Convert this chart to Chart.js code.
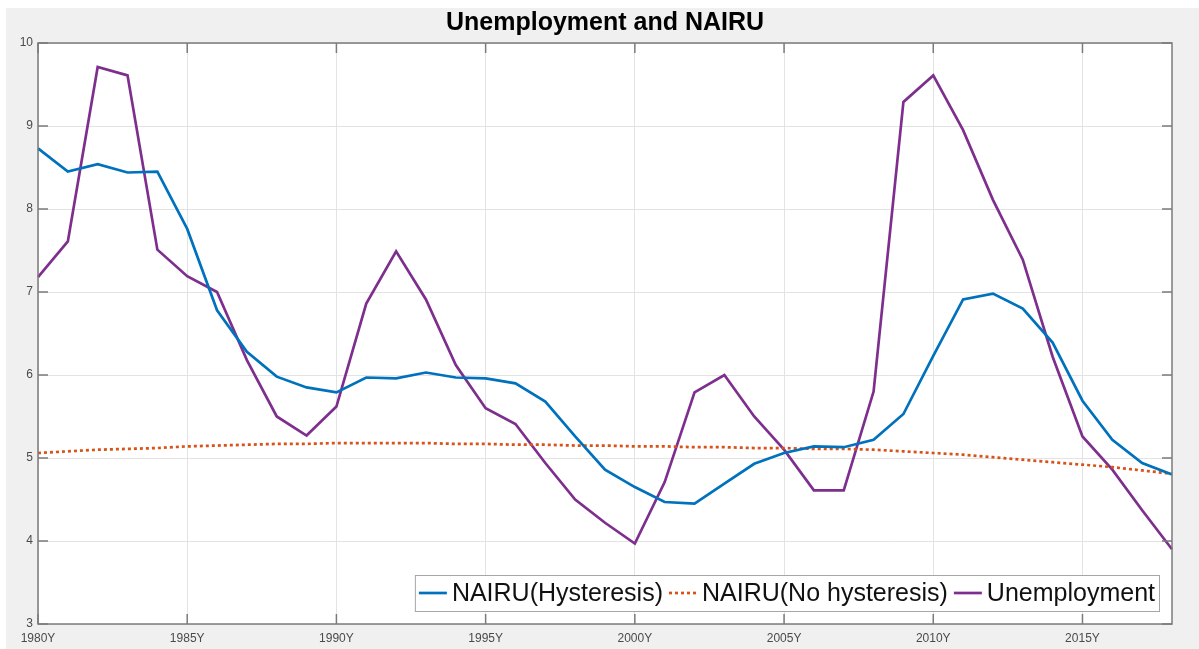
<!DOCTYPE html>
<html>
<head>
<meta charset="utf-8">
<script src="https://cdn.jsdelivr.net/npm/chart.js@4/dist/chart.umd.min.js"></script>
<style>
  html, body { margin: 0; padding: 0; background: #ffffff; }
  #wrap { width: 1199px; height: 649px; }
</style>
</head>
<body>
<div id="wrap"><canvas id="chart" width="1199" height="649"></canvas></div>
<script>
const years = [1980, 1981, 1982, 1983, 1984, 1985, 1986, 1987, 1988, 1989,
  1990, 1991, 1992, 1993, 1994, 1995, 1996, 1997, 1998, 1999,
  2000, 2001, 2002, 2003, 2004, 2005, 2006, 2007, 2008, 2009,
  2010, 2011, 2012, 2013, 2014, 2015, 2016, 2017, 2018];

const nairuHysteresis = [8.73, 8.45, 8.54, 8.44, 8.45, 7.76, 6.78, 6.28, 5.98, 5.85,
  5.79, 5.97, 5.96, 6.03, 5.97, 5.96, 5.90, 5.68, 5.26, 4.86,
  4.65, 4.47, 4.45, 4.69, 4.93, 5.06, 5.14, 5.13, 5.22, 5.53,
  6.23, 6.91, 6.98, 6.80, 6.39, 5.69, 5.22, 4.94, 4.80];

const nairuNoHysteresis = [5.06, 5.08, 5.10, 5.11, 5.12, 5.14, 5.15, 5.16, 5.17, 5.17,
  5.18, 5.18, 5.18, 5.18, 5.17, 5.17, 5.16, 5.16, 5.15, 5.15,
  5.14, 5.14, 5.13, 5.13, 5.12, 5.12, 5.11, 5.11, 5.10, 5.08,
  5.06, 5.04, 5.01, 4.98, 4.95, 4.92, 4.89, 4.85, 4.81];

const unemployment = [7.18, 7.61, 9.71, 9.61, 7.51, 7.19, 7.00, 6.18, 5.50, 5.27,
  5.62, 6.86, 7.49, 6.91, 6.12, 5.60, 5.41, 4.94, 4.50, 4.22,
  3.97, 4.71, 5.79, 6.00, 5.50, 5.10, 4.61, 4.61, 5.80, 9.29,
  9.61, 8.95, 8.11, 7.39, 6.22, 5.26, 4.86, 4.37, 3.90];

const yTicks = [3, 4, 5, 6, 7, 8, 9, 10];

const FONT = '"Liberation Sans", Arial, Helvetica, sans-serif';

// figure background, axes box, inward ticks and the in-plot legend (MATLAB look)
const matlabFrame = {
  id: 'matlabFrame',
  afterLayout(chart) {
    // centre the title over the axes rather than the whole canvas
    const t = chart.titleBlock, a = chart.chartArea;
    if (t) {
      t.left = a.left;
      t.right = a.right;
      t.width = a.right - a.left;
    }
  },
  beforeDraw(chart) {
    const {ctx, chartArea: a} = chart;
    ctx.save();
    ctx.fillStyle = '#ffffff';
    ctx.fillRect(0, 0, chart.width, chart.height);
    ctx.fillStyle = '#f0f0f0';
    ctx.fillRect(6, 8, chart.width - 6, chart.height - 8);
    ctx.fillStyle = '#ffffff';
    ctx.fillRect(a.left, a.top, a.right - a.left, a.bottom - a.top);
    ctx.restore();
  },
  afterDraw(chart) {
    const {ctx, chartArea: a} = chart;
    const x = chart.scales.x, y = chart.scales.y;
    ctx.save();
    ctx.strokeStyle = '#7b7b7b';
    ctx.lineWidth = 1.5;
    ctx.strokeRect(a.left, a.top, a.right - a.left, a.bottom - a.top);

    ctx.beginPath();
    years.forEach((yr, i) => {
      if (yr % 5 !== 0) return;
      const px = x.getPixelForValue(i);
      ctx.moveTo(px, a.bottom); ctx.lineTo(px, a.bottom - 10);
      ctx.moveTo(px, a.top); ctx.lineTo(px, a.top + 10);
    });
    yTicks.forEach(v => {
      const py = y.getPixelForValue(v);
      ctx.moveTo(a.left, py); ctx.lineTo(a.left + 10, py);
      ctx.moveTo(a.right, py); ctx.lineTo(a.right - 10, py);
    });
    ctx.stroke();

    // legend box, bottom right inside the axes
    const ds = chart.data.datasets;
    ctx.font = '25px ' + FONT;
    const pad = 4, lineLen = 28, gapLT = 5, gapItem = 6;
    const widths = ds.map(d => ctx.measureText(d.label).width);
    let total = pad * 2 + ds.length * (lineLen + gapLT) + gapItem * (ds.length - 1);
    widths.forEach(w => total += w);
    const boxR = a.right - 13, boxB = a.bottom - 13, boxH = 36;
    const boxL = boxR - total, boxT = boxB - boxH;
    ctx.fillStyle = '#ffffff';
    ctx.fillRect(boxL, boxT, total, boxH);
    ctx.strokeStyle = '#a6a6a6';
    ctx.lineWidth = 1;
    ctx.strokeRect(boxL + 0.5, boxT + 0.5, total, boxH);
    const cy = boxT + boxH / 2;
    let cx = boxL + pad;
    ds.forEach((d, i) => {
      ctx.beginPath();
      ctx.strokeStyle = d.borderColor;
      ctx.lineWidth = d.borderWidth;
      ctx.setLineDash(d.borderDash || []);
      ctx.moveTo(cx, cy); ctx.lineTo(cx + lineLen, cy);
      ctx.stroke();
      ctx.setLineDash([]);
      cx += lineLen + gapLT;
      ctx.fillStyle = '#111111';
      ctx.textBaseline = 'middle';
      ctx.textAlign = 'left';
      ctx.fillText(d.label, cx, cy + 1);
      cx += widths[i] + gapItem;
    });
    ctx.restore();
  }
};

new Chart(document.getElementById('chart'), {
  type: 'line',
  data: {
    labels: years,
    datasets: [{
      label: 'NAIRU(Hysteresis)',
      data: nairuHysteresis,
      borderColor: '#0072BD',
      borderWidth: 2.7,
      pointRadius: 0,
      tension: 0
    }, {
      label: 'NAIRU(No hysteresis)',
      data: nairuNoHysteresis,
      borderColor: '#D95319',
      borderWidth: 2.7,
      borderDash: [3, 3],
      pointRadius: 0,
      tension: 0
    }, {
      label: 'Unemployment',
      data: unemployment,
      borderColor: '#7E2F8E',
      borderWidth: 2.7,
      pointRadius: 0,
      tension: 0
    }]
  },
  options: {
    responsive: false,
    animation: false,
    devicePixelRatio: 1,
    layout: { padding: { left: 0, right: 27, top: 0, bottom: 0 } },
    plugins: {
      legend: { display: false },
      tooltip: { enabled: false },
      title: {
        display: true,
        text: 'Unemployment and NAIRU',
        color: '#000000',
        font: { family: FONT, size: 25, weight: 'bold' },
        padding: { top: 8, bottom: 5 }
      }
    },
    scales: {
      x: {
        type: 'category',
        offset: false,
        grid: {
          drawTicks: false,
          lineWidth: 1,
          color: c => (years[c.index] % 5 === 0 ? '#e3e3e3' : 'rgba(0,0,0,0)')
        },
        border: { display: false },
        ticks: {
          autoSkip: false,
          maxRotation: 0,
          padding: 7,
          color: '#4a4a4a',
          font: { family: FONT, size: 12 },
          callback: (v, i) => (years[i] % 5 === 0 ? years[i] + 'Y' : '')
        },
        afterFit: s => { s.height = 25; }
      },
      y: {
        min: 3,
        max: 10,
        grid: { drawTicks: false, color: '#e3e3e3', lineWidth: 1 },
        border: { display: false },
        ticks: {
          stepSize: 1,
          padding: 5,
          color: '#4a4a4a',
          font: { family: FONT, size: 12 }
        },
        afterFit: s => { s.width = 38; }
      }
    }
  },
  plugins: [matlabFrame]
});
</script>
</body>
</html>
